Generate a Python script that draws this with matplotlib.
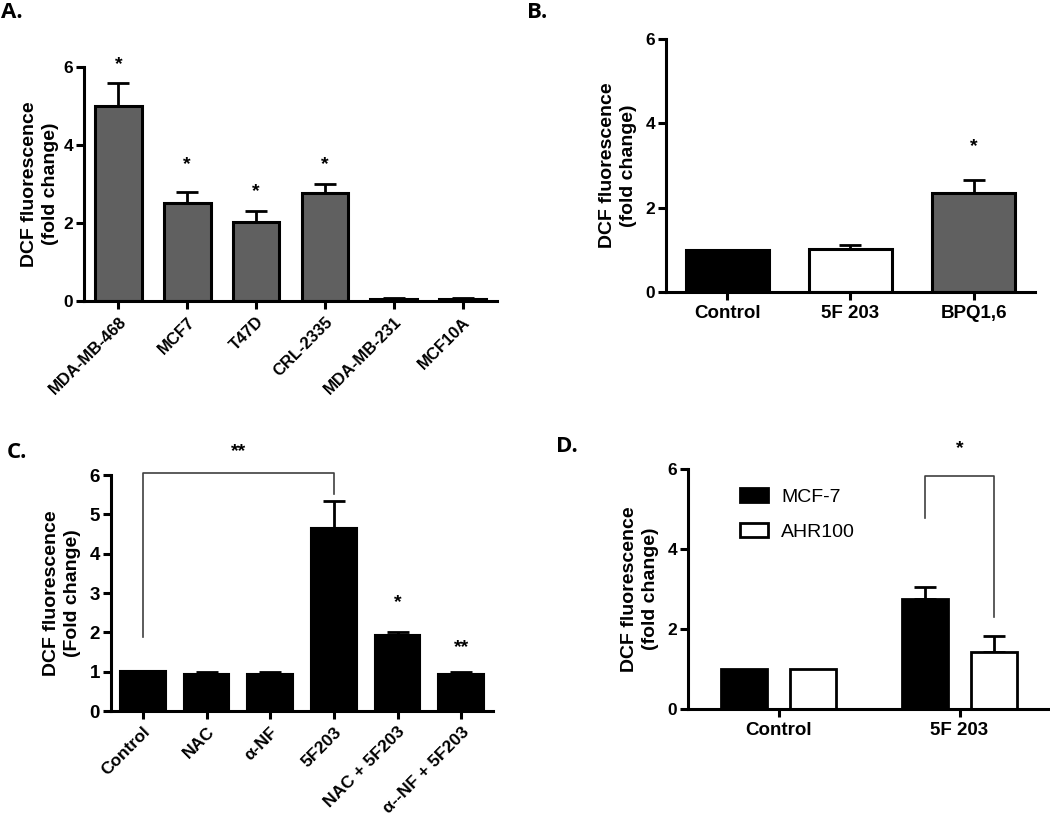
import matplotlib
matplotlib.use("Agg")
import matplotlib.pyplot as plt
import numpy as np

plt.rcParams['font.family'] = ['Liberation Sans', 'DejaVu Sans']

# ---- Panel A data ----
a_cats = ["MDA-MB-468", "MCF7", "T47D", "CRL-2335", "MDA-MB-231", "MCF10A"]
a_vals = [5.0, 2.52, 2.02, 2.77, 0.05, 0.05]
a_errs = [0.58, 0.27, 0.28, 0.23, 0.02, 0.03]
a_stars = ["*", "*", "*", "*", "", ""]
a_star_y = [6.05, 3.5, 2.8, 3.5, 0, 0]

# ---- Panel B data ----
b_cats = ["Control", "5F 203", "BPQ1,6"]
b_vals = [1.0, 1.03, 2.34]
b_errs = [0.0, 0.09, 0.31]
b_colors = ["black", "white", "#606060"]
b_star_y = 3.45

# ---- Panel C data ----
c_cats = ["Control", "NAC", "α-NF", "5F203", "NAC + 5F203", "α--NF + 5F203"]
c_vals = [1.02, 0.95, 0.95, 4.66, 1.92, 0.95]
c_errs = [0.0, 0.04, 0.04, 0.68, 0.09, 0.04]
c_stars = ["", "", "", "", "*", "**"]
c_star_y = [0, 0, 0, 0, 2.75, 1.6]

# ---- Panel D data ----
d_groups = ["Control", "5F 203"]
d_series = ["MCF-7", "AHR100"]
d_mcf7 = [1.0, 2.75]
d_mcf7_err = [0.0, 0.31]
d_ahr = [1.0, 1.42]
d_ahr_err = [0.0, 0.40]

W, H = 1050, 814
fig = plt.figure(figsize=(W / 100, H / 100), dpi=100)

YL_FS = 14
YT_FS = 12.5


def px_axes(left, right, top, bottom):
    return fig.add_axes([left / W, 1 - bottom / H, (right - left) / W, (bottom - top) / H])


def style_ax(ax):
    for s in ["top", "right"]:
        ax.spines[s].set_visible(False)
    for s in ["left", "bottom"]:
        ax.spines[s].set_linewidth(2.2)
    ax.tick_params(axis="both", width=2.2, length=6)
    ax.tick_params(axis="y", labelsize=YT_FS, pad=2)
    for lab in ax.get_yticklabels():
        lab.set_fontweight("bold")


def ylab(ax, text, pad):
    ax.set_ylabel(text, fontsize=YL_FS, fontweight="bold", labelpad=pad, linespacing=1.3)


def errs(ax, x, v, e, lw=2.0, cap=8):
    x = np.asarray(x, float)
    v = np.asarray(v, float)
    e = np.asarray(e, float)
    m = e > 0
    ax.errorbar(x[m], v[m], yerr=[np.zeros(m.sum()), e[m]], fmt="none",
                ecolor="black", elinewidth=lw, capsize=cap, capthick=lw, zorder=1)


def panel_label(x, y, s):
    fig.text(x / W, 1 - y / H, s, fontsize=16, fontweight="bold", family="Open Sans",
             va="center", ha="left")


# ---------------- Panel A ----------------
axA = px_axes(84, 497, 67, 301)
xa = np.arange(len(a_cats))
errs(axA, xa, a_vals, a_errs)
axA.bar(xa, a_vals, width=0.68, color="#606060", edgecolor="black", linewidth=2.2, zorder=2)
for x, s, y in zip(xa, a_stars, a_star_y):
    if s:
        axA.text(x, y, s, ha="center", va="center", fontsize=14, fontweight="bold")
axA.set_xlim(-0.5, 5.5)
axA.set_ylim(0, 6)
axA.set_yticks([0, 2, 4, 6])
axA.set_xticks(xa)
axA.set_xticklabels(a_cats, rotation=45, ha="right", rotation_mode="anchor",
                    fontsize=12, fontweight="bold")
style_ax(axA)
ylab(axA, "DCF fluorescence\n(fold change)", 3)
panel_label(1, 13, "A.")

# ---------------- Panel B ----------------
axB = px_axes(666, 1035, 39, 292)
xb = np.arange(len(b_cats))
errs(axB, xb, b_vals, b_errs)
axB.bar(xb, b_vals, width=0.68, color=b_colors, edgecolor="black", linewidth=2.2, zorder=2)
axB.text(2, b_star_y, "*", ha="center", va="center", fontsize=14, fontweight="bold")
axB.set_xlim(-0.5, 2.5)
axB.set_ylim(0, 6)
axB.set_yticks([0, 2, 4, 6])
axB.set_xticks(xb)
axB.set_xticklabels(b_cats, fontsize=13.5, fontweight="bold")
style_ax(axB)
ylab(axB, "DCF fluorescence\n(fold change)", 6)
panel_label(527, 13, "B.")

# ---------------- Panel C ----------------
axC = px_axes(111, 493, 475, 711)
xc = np.arange(len(c_cats))
errs(axC, xc, c_vals, c_errs, cap=8)
axC.bar(xc, c_vals, width=0.72, color="black", edgecolor="black", linewidth=1.5, zorder=2)
for x, s, y in zip(xc, c_stars, c_star_y):
    if s:
        axC.text(x, y, s, ha="center", va="center", fontsize=14, fontweight="bold")
# bracket Control vs 5F203
axC.plot([0, 0, 3, 3], [1.89, 6.06, 6.06, 5.52], color="#404040", lw=1.2, clip_on=False)
axC.text(1.5, 6.6, "**", ha="center", va="center", fontsize=14, fontweight="bold")
axC.set_xlim(-0.5, 5.5)
axC.set_ylim(0, 6)
axC.set_yticks([0, 1, 2, 3, 4, 5, 6])
axC.set_xticks(xc)
axC.set_xticklabels(c_cats, rotation=45, ha="right", rotation_mode="anchor",
                    fontsize=12.5, fontweight="bold")
style_ax(axC)
axC.tick_params(axis="y", labelsize=13.5)
for lab in axC.get_yticklabels():
    lab.set_fontweight("bold")
ylab(axC, "DCF fluorescence\n(Fold change)", 6)
panel_label(7, 453, "C.")

# ---------------- Panel D ----------------
axD = px_axes(688, 1050, 469, 709)
xd = np.arange(len(d_groups))
off, bw = 0.19, 0.255
errs(axD, xd - off, d_mcf7, d_mcf7_err)
errs(axD, xd + off, d_ahr, d_ahr_err)
axD.bar(xd - off, d_mcf7, width=bw, color="black", edgecolor="black", linewidth=2.0,
        zorder=2, label=d_series[0])
axD.bar(xd + off, d_ahr, width=bw, color="white", edgecolor="black", linewidth=2.0,
        zorder=2, label=d_series[1])
axD.plot([1 - off, 1 - off, 1 + off, 1 + off], [4.78, 5.83, 5.83, 2.31],
         color="#404040", lw=1.2, clip_on=False)
axD.text(1, 6.5, "*", ha="center", va="center", fontsize=14, fontweight="bold")
axD.set_xlim(-0.5, 1.5)
axD.set_ylim(0, 6)
axD.set_yticks([0, 2, 4, 6])
axD.set_xticks(xd)
axD.set_xticklabels(d_groups, fontsize=13.5, fontweight="bold")
style_ax(axD)
ylab(axD, "DCF fluorescence\n(fold change)", 6)
leg = axD.legend(loc="upper left", bbox_to_anchor=(0.145, 0.92), frameon=False,
                 fontsize=14, handlelength=1.4, handleheight=0.75, labelspacing=0.85,
                 handletextpad=0.7, borderpad=0, borderaxespad=0)
panel_label(556, 447, "D.")

fig.savefig("out.png", dpi=100, facecolor="white")
